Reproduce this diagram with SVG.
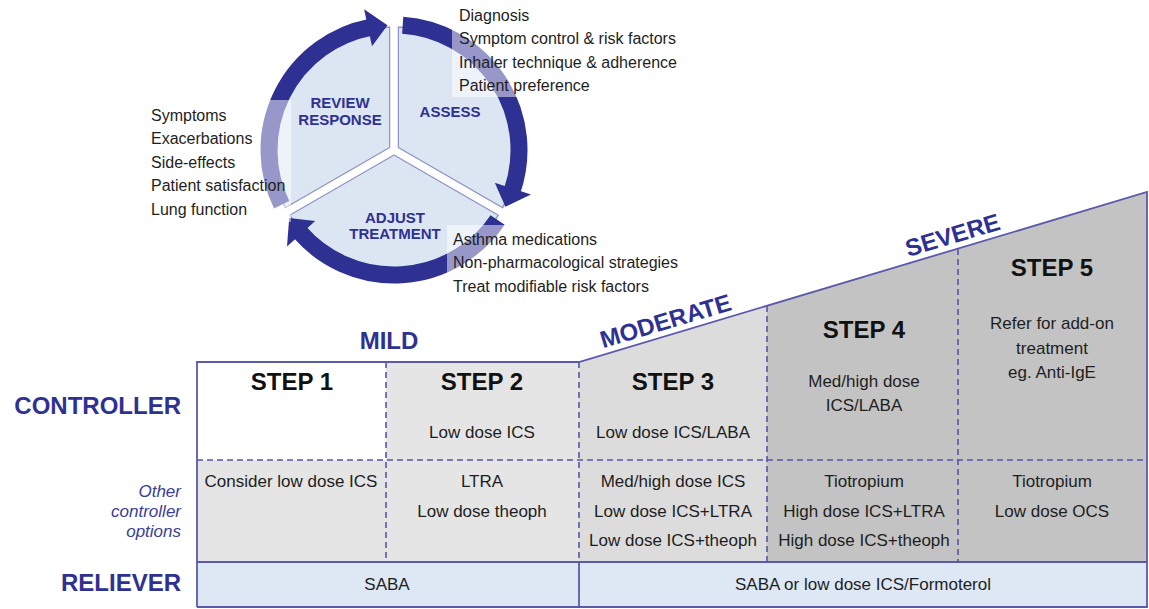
<svg xmlns="http://www.w3.org/2000/svg" width="1149" height="609" viewBox="0 0 1149 609">
<style>
text{font-family:"Liberation Sans",Arial,sans-serif;}
.body{font-size:16px;fill:#1e1e1e;}
.cell{font-size:17px;fill:#1e1e1e;text-anchor:middle;}
.step{font-size:24px;font-weight:bold;fill:#111;text-anchor:middle;}
.seg{font-size:15px;font-weight:bold;fill:#2e3192;text-anchor:middle;}
.sev{font-size:24px;font-weight:bold;fill:#2e3192;text-anchor:middle;}
.row{font-size:24px;font-weight:bold;fill:#2e3192;text-anchor:end;}
.opt{font-size:17px;font-style:italic;fill:#3a3d96;text-anchor:end;}
.arc{fill:none;stroke:#2e3192;stroke-width:17;}
.head{fill:#2e3192;}
.veil{fill:#ffffff;fill-opacity:0.5;}
.dash{stroke:#5555a8;stroke-width:1.6;stroke-dasharray:6,4;fill:none;}
.solid{stroke:#5a5aaa;stroke-width:1.8;fill:none;}
</style>

<!-- cycle pie -->
<g id="cycle-pie">
  <circle cx="394" cy="150" r="123" fill="#dce6f2" stroke="#8f94c4" stroke-width="1.5"/>
  <g stroke="#8f94c4" stroke-width="10">
    <line x1="394" y1="150" x2="394" y2="28"/>
    <line x1="394" y1="150" x2="499.7" y2="211"/>
    <line x1="394" y1="150" x2="288.3" y2="211"/>
  </g>
  <g stroke="#ffffff" stroke-width="7.5">
    <line x1="394" y1="150" x2="394" y2="12"/>
    <line x1="394" y1="150" x2="513.5" y2="219"/>
    <line x1="394" y1="150" x2="274.5" y2="219"/>
  </g>
</g>

<g id="connectors">
  <path class="arc" d="M281.65,204.8 A125,125 0 0 1 370.15,27.3"/>
  <polygon class="head" points="364.1,9.2 387.5,25.2 372.0,46.3"/>
  <path class="arc" d="M402.7,25.3 A125,125 0 0 1 512.2,190.7"/>
  <polygon class="head" points="531.0,194.5 505.4,206.8 494.8,182.8"/>
  <path class="arc" d="M497.6,219.9 A125,125 0 0 1 299.7,232.0"/>
  <polygon class="head" points="287.0,246.4 289.2,218.1 315.2,220.9"/>
</g>

<g id="node-review">
  <text class="seg" x="340" y="108">REVIEW</text>
  <text class="seg" x="340" y="125">RESPONSE</text>
</g>
<g id="node-assess">
  <text class="seg" x="450" y="117">ASSESS</text>
</g>
<g id="node-adjust">
  <text class="seg" x="395" y="223">ADJUST</text>
  <text class="seg" x="395" y="239">TREATMENT</text>
</g>

<g id="list-review">
  <rect class="veil" x="145" y="100" width="146" height="122"/>
  <text class="body" x="151" y="121">Symptoms</text>
  <text class="body" x="151" y="144">Exacerbations</text>
  <text class="body" x="151" y="168">Side-effects</text>
  <text class="body" x="151" y="191">Patient satisfaction</text>
  <text class="body" x="151" y="215">Lung function</text>
</g>
<g id="list-assess">
  <rect class="veil" x="452" y="0" width="238" height="97"/>
  <text class="body" x="459" y="21">Diagnosis</text>
  <text class="body" x="459" y="44">Symptom control &amp; risk factors</text>
  <text class="body" x="459" y="68">Inhaler technique &amp; adherence</text>
  <text class="body" x="459" y="91">Patient preference</text>
</g>
<g id="list-adjust">
  <rect class="veil" x="447" y="225" width="243" height="73"/>
  <text class="body" x="453" y="245">Asthma medications</text>
  <text class="body" x="453" y="268">Non-pharmacological strategies</text>
  <text class="body" x="453" y="292">Treat modifiable risk factors</text>
</g>

<!-- table backgrounds -->
<g id="table-bg">
  <rect x="197" y="460" width="189" height="102" fill="#e5e5e5"/>
  <rect x="386" y="362" width="193" height="200" fill="#e5e5e5"/>
  <polygon points="579,362 767,306.1 767,562 579,562" fill="#dcdcdc"/>
  <polygon points="767,306.1 1147,192 1147,562 767,562" fill="#c3c3c3"/>
  <rect x="197" y="562" width="950" height="45" fill="#dde8f4"/>
</g>

<g id="table-lines">
  <line class="dash" x1="386" y1="362" x2="386" y2="562"/>
  <line class="dash" x1="579" y1="362" x2="579" y2="562"/>
  <line class="dash" x1="767" y1="306" x2="767" y2="562"/>
  <line class="dash" x1="958" y1="249" x2="958" y2="562"/>
  <line class="dash" x1="197" y1="460" x2="1147" y2="460"/>
  <polyline class="solid" points="197,607 197,362 579,362 1147,192 1147,607 197,607"/>
  <line class="solid" x1="197" y1="562" x2="1147" y2="562"/>
  <line class="solid" x1="579" y1="562" x2="579" y2="607"/>
</g>

<g id="severity">
  <text class="sev" x="389" y="349">MILD</text>
  <text class="sev" transform="translate(668,329) rotate(-16.57)">MODERATE</text>
  <text class="sev" transform="translate(955,243) rotate(-16.57)">SEVERE</text>
</g>

<g id="row-labels">
  <text class="row" x="181" y="414">CONTROLLER</text>
  <text class="opt" x="181" y="497">Other</text>
  <text class="opt" x="181" y="517">controller</text>
  <text class="opt" x="181" y="537">options</text>
  <text class="row" x="181" y="591">RELIEVER</text>
</g>

<g id="step1">
  <text class="step" x="292" y="390">STEP 1</text>
  <text class="cell" x="291" y="487">Consider low dose ICS</text>
</g>
<g id="step2">
  <text class="step" x="482" y="390">STEP 2</text>
  <text class="cell" x="482" y="438">Low dose ICS</text>
  <text class="cell" x="482" y="487">LTRA</text>
  <text class="cell" x="482" y="517">Low dose theoph</text>
</g>
<g id="step3">
  <text class="step" x="673" y="390">STEP 3</text>
  <text class="cell" x="673" y="438">Low dose ICS/LABA</text>
  <text class="cell" x="673" y="487">Med/high dose ICS</text>
  <text class="cell" x="673" y="517">Low dose ICS+LTRA</text>
  <text class="cell" x="673" y="546">Low dose ICS+theoph</text>
</g>
<g id="step4">
  <text class="step" x="864" y="338">STEP 4</text>
  <text class="cell" x="864" y="387">Med/high dose</text>
  <text class="cell" x="864" y="411">ICS/LABA</text>
  <text class="cell" x="864" y="487">Tiotropium</text>
  <text class="cell" x="864" y="517">High dose ICS+LTRA</text>
  <text class="cell" x="864" y="546">High dose ICS+theoph</text>
</g>
<g id="step5">
  <text class="step" x="1052" y="276">STEP 5</text>
  <text class="cell" x="1052" y="329">Refer for add-on</text>
  <text class="cell" x="1052" y="354">treatment</text>
  <text class="cell" x="1052" y="378">eg. Anti-IgE</text>
  <text class="cell" x="1052" y="487">Tiotropium</text>
  <text class="cell" x="1052" y="517">Low dose OCS</text>
</g>
<g id="reliever">
  <text class="cell" x="387" y="590">SABA</text>
  <text class="cell" x="863" y="590">SABA or low dose ICS/Formoterol</text>
</g>
</svg>
